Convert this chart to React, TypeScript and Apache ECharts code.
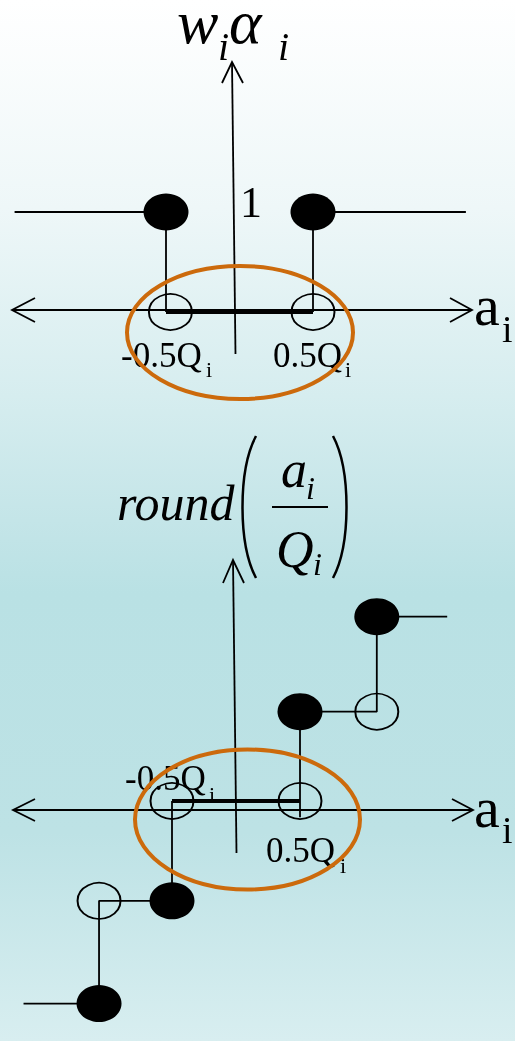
import React, { useEffect, useRef } from "react";
import * as echarts from "echarts";

// ---- data (x in units of Q_i, y in output levels) ----
const topFilled = [[-0.5, 1], [0.5, 1]];
const topOpen = [[-0.47, 0], [0.5, 0]];
const topStepLeft = [[-1.53, 1], [-0.5, 1], [-0.5, 0]];
const topStepRight = [[0.5, 0], [0.5, 1], [1.54, 1]];
const topDeadZone = [[-0.5, 0], [0.5, 0]];

const botFilled = [[-1.07, -2.11], [-0.5, -1.04], [0.5, 0.93], [1.1, 1.92]];
const botOpen = [[-1.07, -1.04], [-0.5, 0], [0.5, 0], [1.1, 0.93]];
const botStepLeft = [[-1.66, -2.11], [-1.07, -2.11], [-1.07, -1.04], [-0.5, -1.04], [-0.5, 0]];
const botStepRight = [[0.5, -0.17], [0.5, 0.93], [1.1, 0.93], [1.1, 1.92], [1.65, 1.92]];
const botDeadZone = [[-0.5, 0], [0.5, 0]];

const tickNeg = "-0.5Q";
const tickPos = "0.5Q";
const topLevelLabel = "1";
const axisName = "a";
const sub = "i";

const FONT = '"Liberation Serif", "Times New Roman", serif';
const ORANGE = "#cc6a0c";

function txt(text: string, x: number, baseline: number, fs: number, italic = false, z = 5) {
  return {
    type: "text",
    x,
    y: baseline - 0.34 * fs,
    z,
    style: {
      text,
      fontSize: fs,
      fontFamily: FONT,
      fontStyle: italic ? "italic" : "normal",
      fill: "#000",
      align: "left",
      verticalAlign: "middle",
    },
  };
}

function ln(x1: number, y1: number, x2: number, y2: number, w = 1.8, z = 3) {
  return { type: "line", z, shape: { x1, y1, x2, y2 }, style: { stroke: "#000", lineWidth: w } };
}

function pl(points: number[][], z = 3) {
  return { type: "polyline", z, shape: { points }, style: { stroke: "#000", lineWidth: 1.8, fill: "none" } };
}

export default function App() {
  const ref = useRef<HTMLDivElement>(null);
  useEffect(() => {
    if (!ref.current) return;
    const chart = echarts.init(ref.current, undefined, { renderer: "svg" });

    const lineS = (data: number[][], idx: number, width = 1.8) => ({
      type: "line",
      data,
      xAxisIndex: idx,
      yAxisIndex: idx,
      symbol: "none",
      lineStyle: { color: "#000", width },
      z: 3,
      silent: true,
    });
    const filledS = (data: number[][], idx: number) => ({
      type: "scatter",
      data,
      xAxisIndex: idx,
      yAxisIndex: idx,
      symbol: "circle",
      symbolSize: [45, 37],
      itemStyle: { color: "#000", opacity: 1 },
      z: 5,
      silent: true,
    });
    const openS = (data: number[][], idx: number) => ({
      type: "scatter",
      data,
      xAxisIndex: idx,
      yAxisIndex: idx,
      symbol: "circle",
      symbolSize: [43, 36],
      itemStyle: { color: "rgba(0,0,0,0)", borderColor: "#000", borderWidth: 1.8, opacity: 1 },
      z: 6,
      silent: true,
    });

    const graphic: any[] = [
      {
        type: "rect",
        z: -10,
        shape: { x: 0, y: 0, width: 515, height: 1041 },
        style: {
          fill: new echarts.graphic.LinearGradient(0, 0, 0, 1, [
            { offset: 0, color: "#ffffff" },
            { offset: 0.2, color: "#eef7f8" },
            { offset: 0.38, color: "#d6edef" },
            { offset: 0.5, color: "#c4e5e8" },
            { offset: 0.57, color: "#b9e1e4" },
            { offset: 0.8, color: "#bde2e5" },
            { offset: 1, color: "#d8eef0" },
          ]),
        },
      },
      // top axes
      ln(12, 310, 472, 310),
      pl([[35, 298], [12, 310], [35, 322]]),
      pl([[450, 298], [472, 310], [450, 322]]),
      ln(232, 62, 235.5, 354),
      pl([[222, 83], [232, 62], [243, 83]]),
      // bottom axes
      ln(13, 810, 473, 810),
      pl([[35, 799], [13, 810], [35, 821]]),
      pl([[452, 799], [473, 810], [452, 821]]),
      ln(233, 560, 236.5, 853),
      pl([[223, 583], [233, 560], [244, 583]]),
      // top title w_i alpha_i
      txt("w", 177, 43, 62, true),
      txt(sub, 218, 60, 40, true),
      txt("\u03b1", 229, 43, 62, true),
      txt(sub, 278, 60, 40, true),
      // top labels
      txt(topLevelLabel, 240, 217, 44),
      txt(tickNeg, 121, 367, 35),
      txt(sub, 206, 377, 22),
      txt(tickPos, 273, 367, 35),
      txt(sub, 345, 377, 22),
      txt(axisName, 474, 325, 58),
      txt(sub, 502, 342, 38),
      // bottom title round(a_i/Q_i)
      txt("round", 117, 520, 50, true),
      {
        type: "bezierCurve",
        z: 5,
        shape: { x1: 256, y1: 436, x2: 256, y2: 578, cpx1: 238, cpy1: 470, cpx2: 238, cpy2: 544 },
        style: { stroke: "#000", lineWidth: 2.5, fill: "none" },
      },
      {
        type: "bezierCurve",
        z: 5,
        shape: { x1: 333, y1: 436, x2: 333, y2: 578, cpx1: 351, cpy1: 470, cpx2: 351, cpy2: 544 },
        style: { stroke: "#000", lineWidth: 2.5, fill: "none" },
      },
      txt(axisName, 281, 487, 52, true),
      txt(sub, 306, 499, 32, true),
      ln(272, 507, 328, 507, 2),
      txt("Q", 276, 567, 52, true),
      txt(sub, 313, 575, 32, true),
      // bottom labels
      txt(tickNeg, 125, 790, 35),
      txt(sub, 209, 802, 22),
      txt(tickPos, 266, 862, 35),
      txt(sub, 340, 873, 22),
      txt(axisName, 474, 827, 58),
      txt(sub, 502, 843, 38),
      // highlight ellipses
      {
        type: "ellipse",
        z: 20,
        shape: { cx: 240, cy: 332.5, rx: 113, ry: 66.5 },
        style: { fill: "none", stroke: ORANGE, lineWidth: 4 },
      },
      {
        type: "ellipse",
        z: 20,
        shape: { cx: 247.5, cy: 819.5, rx: 112.5, ry: 70 },
        style: { fill: "none", stroke: ORANGE, lineWidth: 4 },
      },
    ];

    chart.setOption({
      animation: false,
      grid: [
        { left: 4.3, top: 162, width: 470.4, height: 200 },
        { left: 5.6, top: 561, width: 460.8, height: 500 },
      ],
      xAxis: [
        { type: "value", gridIndex: 0, min: -1.6, max: 1.6, show: false },
        { type: "value", gridIndex: 1, min: -1.8, max: 1.8, show: false },
      ],
      yAxis: [
        { type: "value", gridIndex: 0, min: -0.5, max: 1.5, show: false },
        { type: "value", gridIndex: 1, min: -2.5, max: 2.5, show: false },
      ],
      graphic,
      series: [
        lineS(topStepLeft, 0),
        lineS(topStepRight, 0),
        lineS(topDeadZone, 0, 4),
        filledS(topFilled, 0),
        openS(topOpen, 0),
        lineS(botStepLeft, 1),
        lineS(botStepRight, 1),
        lineS(botDeadZone, 1, 4),
        filledS(botFilled, 1),
        openS(botOpen, 1),
      ],
    });
    return () => chart.dispose();
  }, []);
  return (
    <div
      ref={ref}
      style={{ position: "fixed", left: 0, top: 0, width: 515, height: 1041 }}
    />
  );
}
